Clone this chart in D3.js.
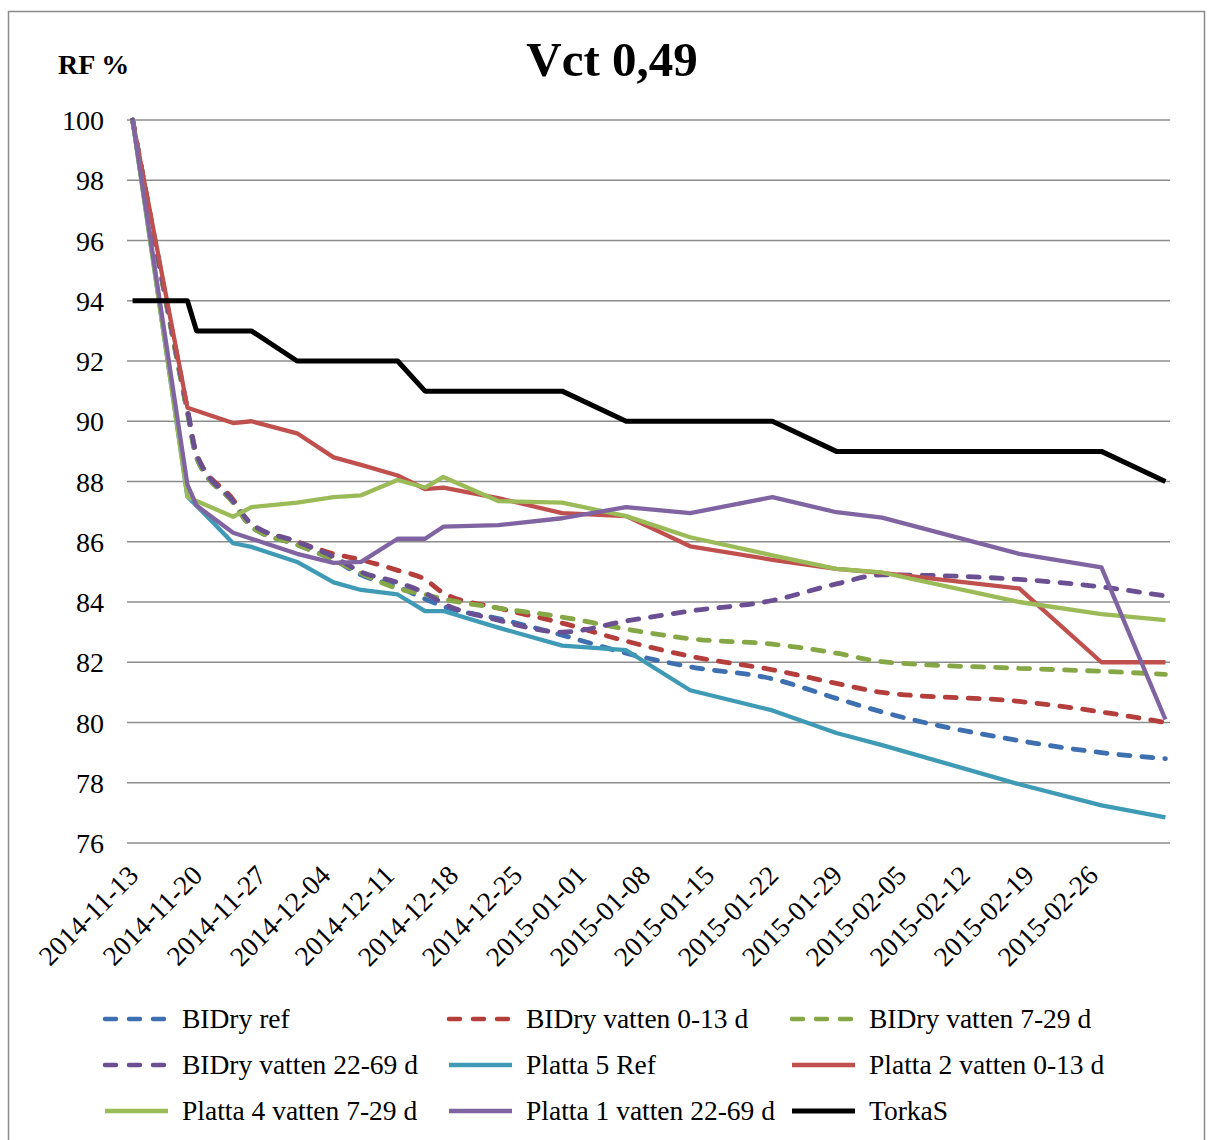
<!DOCTYPE html>
<html><head><meta charset="utf-8">
<script src="https://cdn.jsdelivr.net/npm/d3@7"></script>
<style>body{margin:0;background:#fff}</style>
</head><body>
<svg id="chart" width="1214" height="1140"></svg>
<script>
const dates = ["2014-11-13","2014-11-19","2014-11-20","2014-11-24","2014-11-26","2014-12-01","2014-12-05","2014-12-08","2014-12-12","2014-12-15","2014-12-17","2014-12-23","2014-12-30","2015-01-06","2015-01-13","2015-01-22","2015-01-29","2015-02-03","2015-02-18","2015-02-27","2015-03-06"];
const tickDates = ["2014-11-13","2014-11-20","2014-11-27","2014-12-04","2014-12-11","2014-12-18","2014-12-25","2015-01-01","2015-01-08","2015-01-15","2015-01-22","2015-01-29","2015-02-05","2015-02-12","2015-02-19","2015-02-26"];
const yTicks = [76,78,80,82,84,86,88,90,92,94,96,98,100];

const bidryRef    = [100,90.3,88.8,87.3,86.5,85.9,85.4,84.9,84.5,84.1,83.85,83.45,82.9,82.3,81.85,81.45,80.8,80.35,79.4,79.0,78.8];
const bidry0_13   = [100,90.4,88.9,87.4,86.55,86.0,85.6,85.4,85.05,84.75,84.3,83.8,83.3,82.7,82.2,81.75,81.3,81.0,80.7,80.35,80.0];
const bidry7_29   = [100,90.3,88.8,87.3,86.5,85.9,85.4,84.95,84.45,84.25,84.1,83.8,83.5,83.1,82.78,82.6,82.3,82.02,81.8,81.7,81.6];
const bidry22_69  = [100,90.4,88.9,87.35,86.6,86.0,85.5,85.0,84.65,84.3,83.95,83.4,83.0,83.37,83.7,84.05,84.6,84.9,84.75,84.5,84.2];
const platta5Ref  = [100,87.5,87.2,85.95,85.83,85.33,84.65,84.4,84.25,83.7,83.7,83.15,82.55,82.4,81.07,80.4,79.65,79.25,77.95,77.25,76.85];
const platta2     = [100,90.45,90.35,89.94,90.0,89.6,88.8,88.55,88.2,87.75,87.8,87.45,86.95,86.85,85.85,85.4,85.1,84.97,84.45,82.0,82.0];
const platta4     = [100,87.5,87.35,86.83,87.15,87.3,87.48,87.54,88.05,87.8,88.15,87.35,87.3,86.85,86.15,85.55,85.1,84.98,84.0,83.6,83.4];
const platta1     = [100,87.9,87.2,86.3,86.1,85.6,85.3,85.33,86.1,86.1,86.5,86.55,86.78,87.15,86.95,87.48,86.98,86.8,85.6,85.15,80.1];
const torkaS      = [94,94,93,93,93,92,92,92,92,91,91,91,91,90,90,90,89,89,89,89,88];

const seriesNames = ["BIDry ref","BIDry vatten 0-13 d","BIDry vatten 7-29 d","BIDry vatten 22-69 d","Platta 5 Ref","Platta 2 vatten 0-13 d","Platta 4 vatten 7-29 d","Platta 1 vatten 22-69 d","TorkaS"];
const seriesValues = [bidryRef,bidry0_13,bidry7_29,bidry22_69,platta5Ref,platta2,platta4,platta1,torkaS];
const seriesColors = ["#3e6fb0","#b33e3b","#86a746","#6a4f93","#3f9bb5","#c0504d","#9bbb59","#8064a2","#000000"];
const seriesDashed = [true,true,true,true,false,false,false,false,false];

const parse = d3.utcParse("%Y-%m-%d");
const fmt = d3.utcFormat("%Y-%m-%d");
const svg = d3.select("#chart");
const font = "'Liberation Serif', 'Times New Roman', serif";

// outer border
svg.append("rect").attr("x",8.5).attr("y",11.5).attr("width",1196).attr("height",1140)
  .attr("fill","none").attr("stroke","#8a8a8a").attr("stroke-width",1.5);

const DAY = 864e5;
const x = d3.scaleUtc()
  .domain([new Date(parse(dates[0]).getTime()-DAY/2), new Date(parse(dates[dates.length-1]).getTime()+DAY/2)])
  .range([128,1170]);
const y = d3.scaleLinear().domain([76,100]).range([843,120]);

// gridlines
svg.append("g").selectAll("line").data(yTicks).join("line")
  .attr("x1",127).attr("x2",1170)
  .attr("y1",d=>y(d)).attr("y2",d=>y(d))
  .attr("stroke","#8c8c8c").attr("stroke-width",1.5);

// y axis labels
const yAxis = d3.axisLeft(y).tickValues(yTicks).tickSize(0).tickPadding(0);
const gy = svg.append("g").attr("transform","translate(104,0)").call(yAxis);
gy.select(".domain").remove();
gy.selectAll("text").attr("font-family",font).attr("font-size",28).attr("fill","#000").attr("dy","0.34em");

// x axis labels
const xAxis = d3.axisBottom(x).tickValues(tickDates.map(parse)).tickFormat(fmt).tickSize(0).tickPadding(0);
const gx = svg.append("g").call(xAxis);
gx.select(".domain").remove();
gx.selectAll(".tick text")
  .attr("font-family",font).attr("font-size",27.5).attr("fill","#000")
  .attr("text-anchor","end").attr("y",0).attr("dy",0)
  .attr("transform","translate(7,877) rotate(-45)");

// lines
const parsedDates = dates.map(parse);
seriesValues.forEach((vals,i)=>{
  const pts = vals.map((v,j)=>[parsedDates[j],v]).filter(p=>p[1]!=null);
  const line = d3.line().x(p=>x(p[0])).y(p=>y(p[1]))
    .curve(seriesDashed[i] ? d3.curveMonotoneX : d3.curveLinear);
  svg.append("path").datum(pts).attr("d",line)
    .attr("fill","none").attr("stroke",seriesColors[i])
    .attr("stroke-width", i===8 ? 5 : (seriesDashed[i] ? 4.8 : 4.3))
    .attr("stroke-linejoin","round")
    .attr("stroke-linecap", seriesDashed[i] ? "round" : "butt")
    .attr("stroke-dasharray", seriesDashed[i] ? "11,12" : null);
});

// title
svg.append("text").attr("x",612).attr("y",76).attr("text-anchor","middle")
  .attr("font-family",font).attr("font-weight","bold").attr("font-size",49).text("Vct 0,49");
svg.append("text").attr("x",58).attr("y",74)
  .attr("font-family",font).attr("font-weight","bold").attr("font-size",28).text("RF %");

// legend
const colX = [103,447,790];
const rowY = [1019,1065,1111];
const lg = svg.append("g");
seriesNames.forEach((name,i)=>{
  const cx = colX[i%3], cy = rowY[Math.floor(i/3)];
  lg.append("line").attr("x1",cx+2).attr("x2",cx+65).attr("y1",cy).attr("y2",cy)
    .attr("stroke",seriesColors[i]).attr("stroke-width", i===8 ? 5 : 4.5)
    .attr("stroke-linecap", seriesDashed[i] ? "round" : "butt")
    .attr("stroke-dasharray", seriesDashed[i] ? "11,13" : null);
  lg.append("text").attr("x",cx+79).attr("y",cy).attr("dy","0.34em")
    .attr("font-family",font).attr("font-size",27.5).text(name);
});
</script>
</body></html>
